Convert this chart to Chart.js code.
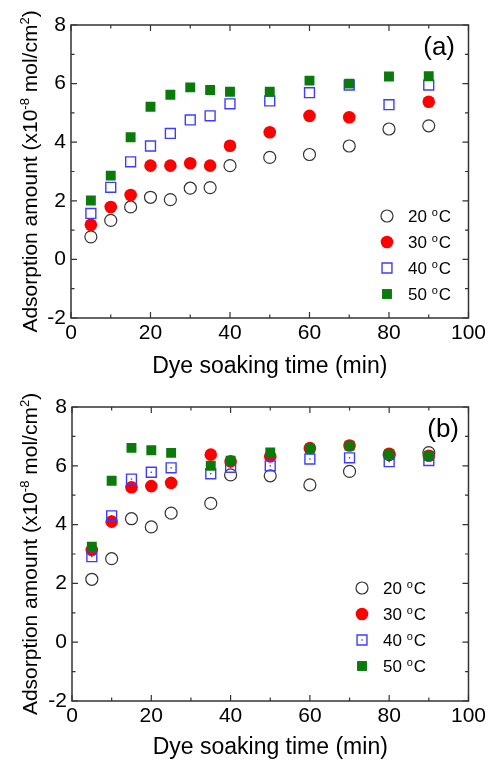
<!DOCTYPE html>
<html>
<head>
<meta charset="utf-8">
<script src="https://cdn.jsdelivr.net/npm/chart.js@4/dist/chart.umd.min.js"></script>
<style>
body { margin: 0; background: #fff; }
canvas { position: absolute; left: 0; }
</style>
</head>
<body>
<canvas id="chartA" width="489" height="380" style="top:0px"></canvas>
<canvas id="chartB" width="489" height="381" style="top:380px"></canvas>
<script>
// soaking times (min)
var timesA = [5, 10, 15, 20, 25, 30, 35, 40, 50, 60, 70, 80, 90];
var timesB = [5, 10, 15, 20, 25, 35, 40, 50, 60, 70, 80, 90];

// panel (a) adsorption amount (x10^-8 mol/cm2)
var a20 = [0.77, 1.33, 1.79, 2.12, 2.04, 2.43, 2.45, 3.20, 3.48, 3.58, 3.87, 4.45, 4.56];
var a30 = [1.18, 1.79, 2.20, 3.20, 3.20, 3.28, 3.20, 3.88, 4.34, 4.90, 4.85, null, 5.38];
var a40 = [1.57, 2.46, 3.33, 3.87, 4.30, 4.76, 4.90, 5.31, 5.41, 5.69, 5.95, 5.28, 5.95];
var a50 = [2.01, 2.86, 4.17, 5.21, 5.62, 5.87, 5.78, 5.72, 5.72, 6.10, 6.00, 6.24, 6.25];

// panel (b)
var b20 = [2.14, 2.84, 4.20, 3.92, 4.39, 4.72, 5.69, 5.66, 5.35, 5.81, 6.38, 6.45];
var b30 = [3.14, 4.10, 5.27, 5.31, 5.42, 6.38, 6.15, 6.32, 6.60, 6.69, 6.41, 6.34];
var b40 = [2.91, 4.30, 5.55, 5.78, 5.93, 5.73, 5.95, 6.00, 6.23, 6.27, 6.14, 6.18];
var b50 = [3.25, 5.49, 6.61, 6.53, 6.44, 6.00, 6.17, 6.45, 6.58, 6.68, 6.38, 6.34];

var seriesNames = ['20', '30', '40', '50'];
var xTicks = [0, 20, 40, 60, 80, 100];
var yTicks = [-2, 0, 2, 4, 6, 8];

var FONT = 'Liberation Sans, Arial, Helvetica, sans-serif';
var RED = '#ff0000', GREEN = '#0a7a0a', BLUE = '#3c3cff', DARK = '#333333';
var NONE = 'rgba(0,0,0,0)';

function toPoints(xs, ys) {
    var pts = [];
    for (var i = 0; i < xs.length; i++) {
        if (ys[i] !== null) pts.push({ x: xs[i], y: ys[i] });
    }
    return pts;
}

// marker style for each series
var markers = [
    { pointStyle: 'circle', radius: 6, bg: NONE, border: DARK, bw: 1.2 },
    { pointStyle: 'circle', radius: 6.3, bg: RED, border: RED, bw: 0 },
    { pointStyle: 'rect', radius: 7, bg: NONE, border: BLUE, bw: 1.4 },
    { pointStyle: 'rect', radius: 7, bg: GREEN, border: GREEN, bw: 0 }
];

function makeDatasets(xs, lists) {
    return lists.map(function (ys, i) {
        var m = markers[i];
        return {
            label: seriesNames[i] + ' oC',
            data: toPoints(xs, ys),
            showLine: false,
            pointStyle: m.pointStyle,
            pointRadius: m.radius,
            pointBackgroundColor: m.bg,
            pointBorderColor: m.border,
            pointBorderWidth: m.bw,
            order: 4 - i
        };
    });
}

// draws the box, inward ticks, y title, panel label and legend
var framePlugin = {
    id: 'frame',
    afterDatasetsDraw: function (chart, args, opts) {
        var ctx = chart.ctx, ca = chart.chartArea;
        var xs = chart.scales.x, ys = chart.scales.y;
        ctx.save();

        // dot inside blue squares (panel b)
        if (opts.dots) {
            var meta = chart.getDatasetMeta(2);
            ctx.fillStyle = BLUE;
            meta.data.forEach(function (p) {
                ctx.fillRect(p.x - 0.7, p.y - 0.7, 1.4, 1.4);
            });
        }

        ctx.strokeStyle = DARK;
        ctx.lineWidth = 1.5;
        ctx.strokeRect(ca.left, ca.top, ca.right - ca.left, ca.bottom - ca.top);

        ctx.lineWidth = 1.2;
        ctx.beginPath();
        for (var v = 0; v <= 100; v += 10) {
            var px = xs.getPixelForValue(v);
            var len = v % 20 === 0 ? 6 : 3.5;
            ctx.moveTo(px, ca.bottom); ctx.lineTo(px, ca.bottom - len);
            ctx.moveTo(px, ca.top); ctx.lineTo(px, ca.top + len);
        }
        for (var w = -2; w <= 8; w += 1) {
            var py = ys.getPixelForValue(w);
            var l2 = w % 2 === 0 ? 6 : 3.5;
            ctx.moveTo(ca.left, py); ctx.lineTo(ca.left + l2, py);
            ctx.moveTo(ca.right, py); ctx.lineTo(ca.right - l2, py);
        }
        ctx.stroke();

        // y axis title with superscripts
        var cy = (ca.top + ca.bottom) / 2;
        var parts = [
            ['Adsorption amount (x10', false], ['-8', true],
            [' mol/cm', false], ['2', true], [')', false]
        ];
        var big = '21px ' + FONT, small = '13px ' + FONT;
        var total = 0;
        parts.forEach(function (p) {
            ctx.font = p[1] ? small : big;
            total += ctx.measureText(p[0]).width;
        });
        ctx.translate(37, cy);
        ctx.rotate(-Math.PI / 2);
        ctx.fillStyle = '#000';
        ctx.textBaseline = 'alphabetic';
        ctx.textAlign = 'left';
        var tx = -total / 2;
        parts.forEach(function (p) {
            ctx.font = p[1] ? small : big;
            ctx.fillText(p[0], tx, p[1] ? -8 : 0);
            tx += ctx.measureText(p[0]).width;
        });
        ctx.setTransform(1, 0, 0, 1, 0, 0);

        // panel label
        ctx.font = '26px ' + FONT;
        ctx.textAlign = 'right';
        ctx.textBaseline = 'middle';
        ctx.fillText(opts.label, opts.labelX, opts.labelY);

        // legend
        ctx.textAlign = 'left';
        ctx.textBaseline = 'alphabetic';
        seriesNames.forEach(function (name, i) {
            var m = markers[i];
            var ry = opts.legY + i * 26;
            ctx.fillStyle = m.bg;
            ctx.strokeStyle = m.border;
            ctx.lineWidth = m.bw;
            Chart.helpers.drawPoint(ctx, {
                pointStyle: m.pointStyle, radius: m.radius, rotation: 0,
                borderWidth: m.bw
            }, opts.legX, ry);
            if (opts.dots && i === 2) {
                ctx.fillStyle = BLUE;
                ctx.fillRect(opts.legX - 0.7, ry - 0.7, 1.4, 1.4);
            }
            ctx.fillStyle = '#000';
            ctx.font = '17px ' + FONT;
            var t = opts.legX + 21;
            ctx.fillText(name + ' ', t, ry + 6);
            t += ctx.measureText(name + ' ').width;
            ctx.font = '11px ' + FONT;
            ctx.fillText('o', t, ry);
            t += ctx.measureText('o').width + 1;
            ctx.font = '17px ' + FONT;
            ctx.fillText('C', t, ry + 6);
        });
        ctx.restore();
    }
};

function makeChart(id, xs, lists, yWidth, xHeight, top, frameOpts) {
    var ctx = document.getElementById(id).getContext('2d');
    return new Chart(ctx, {
        type: 'scatter',
        data: { datasets: makeDatasets(xs, lists) },
        options: {
            responsive: false,
            animation: false,
            events: [],
            layout: { padding: { top: top, right: 18, left: 0, bottom: 0 } },
            plugins: {
                legend: { display: false },
                tooltip: { enabled: false },
                frame: frameOpts
            },
            scales: {
                x: {
                    type: 'linear',
                    min: 0,
                    max: 100,
                    afterBuildTicks: function (s) { s.ticks = xTicks.map(function (v) { return { value: v }; }); },
                    ticks: { font: { size: 21, family: FONT }, color: '#000', padding: 3, maxRotation: 0 },
                    grid: { display: false, drawTicks: false },
                    border: { display: false },
                    title: {
                        display: true,
                        text: 'Dye soaking time (min)',
                        font: { size: 23, family: FONT },
                        color: '#000',
                        padding: { top: 0, bottom: 0 }
                    },
                    afterFit: function (s) { s.height = xHeight; }
                },
                y: {
                    min: -2,
                    max: 8,
                    afterBuildTicks: function (s) { s.ticks = yTicks.map(function (v) { return { value: v }; }); },
                    ticks: { font: { size: 21, family: FONT }, color: '#000', padding: 5 },
                    grid: { display: false, drawTicks: false },
                    border: { display: false },
                    afterFit: function (s) { s.width = yWidth; }
                }
            }
        },
        plugins: [framePlugin]
    });
}

makeChart('chartA', timesA, [a20, a30, a40, a50], 71, 62, 25,
    { label: '(a)', labelX: 455, labelY: 48, legX: 387, legY: 216, dots: false });
makeChart('chartB', timesB, [b20, b30, b40, b50], 72, 60, 27,
    { label: '(b)', labelX: 459, labelY: 50, legX: 362, legY: 208, dots: true });
</script>
</body>
</html>
